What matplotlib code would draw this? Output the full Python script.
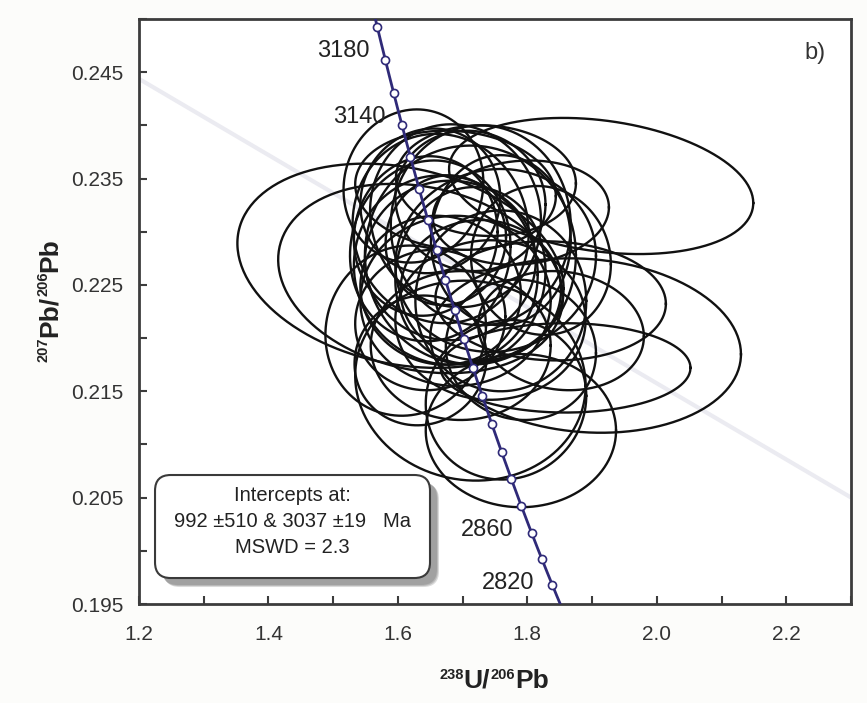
import numpy as np
import matplotlib
matplotlib.use("Agg")
import matplotlib.pyplot as plt
from matplotlib.patches import FancyBboxPatch
from matplotlib.ticker import FixedLocator, FormatStrFormatter

plt.rcParams['font.family'] = ['Liberation Sans', 'DejaVu Sans']

# Decay constants (1/yr) and present-day 238U/235U
LAMBDA_238 = 1.55125e-10
LAMBDA_235 = 9.8485e-10
U_RATIO = 137.88

# Spot analyses: 238U/206Pb and 207Pb/206Pb with 2-sigma half-widths and error correlation
u238_pb206 = [1.914, 1.604, 1.635, 1.890, 1.859, 1.624, 1.689, 1.728, 1.790, 1.666, 1.650,
              1.712, 1.674, 1.751, 1.689, 1.635, 1.712, 1.790, 1.767, 1.852, 1.836, 1.743,
              1.650, 1.697, 1.712, 1.650, 1.759, 1.821, 1.674, 1.728, 1.790, 1.689, 1.612,
              1.681, 1.712, 1.666, 1.759, 1.643, 1.736]
u238_err = [0.235, 0.252, 0.220, 0.240, 0.193, 0.108, 0.132, 0.139, 0.136, 0.136, 0.124,
            0.163, 0.142, 0.155, 0.147, 0.102, 0.178, 0.147, 0.124, 0.128, 0.178, 0.147,
            0.116, 0.139, 0.116, 0.108, 0.108, 0.108, 0.093, 0.124, 0.116, 0.155, 0.124,
            0.132, 0.116, 0.124, 0.132, 0.111, 0.139]
pb207_pb206 = [0.2343, 0.2268, 0.2256, 0.2193, 0.2172, 0.2343, 0.2315, 0.2306, 0.2318, 0.2303, 0.2282,
               0.2278, 0.2264, 0.2273, 0.2235, 0.2179, 0.2160, 0.2113, 0.2142, 0.2207, 0.2235, 0.2217,
               0.2217, 0.2193, 0.2329, 0.2329, 0.2292, 0.2273, 0.2292, 0.2245, 0.2189, 0.2339, 0.2207,
               0.2273, 0.2259, 0.2245, 0.2235, 0.2296, 0.2348]
pb207_err = [0.0064, 0.0096, 0.0089, 0.0082, 0.0042, 0.0072, 0.0086, 0.0094, 0.0049, 0.0089, 0.0085,
             0.0103, 0.0089, 0.0086, 0.0080, 0.0061, 0.0094, 0.0072, 0.0075, 0.0056, 0.0056, 0.0075,
             0.0066, 0.0070, 0.0066, 0.0068, 0.0080, 0.0070, 0.0061, 0.0066, 0.0066, 0.0056, 0.0080,
             0.0075, 0.0083, 0.0070, 0.0085, 0.0075, 0.0052]
err_corr = [-0.25, -0.22, -0.20, -0.10, 0.00, 0.05, -0.05, 0.00, 0.10, -0.05, 0.05,
            0.00, -0.05, 0.05, 0.00, 0.05, -0.05, 0.00, 0.05, -0.10, -0.05, 0.00,
            0.05, 0.00, -0.05, 0.05, 0.00, -0.05, 0.05, 0.00, -0.05, -0.10, 0.05,
            0.00, 0.05, -0.05, 0.00, 0.05, -0.05]

# Concordia age markers (Ma) and the ones carrying labels
marker_ages = [2780, 2800, 2820, 2840, 2860, 2880, 2900, 2920, 2940, 2960, 2980, 3000,
               3020, 3040, 3060, 3080, 3100, 3120, 3140, 3160, 3180, 3200]
labelled_ages = [2820, 2860, 3140, 3180]

# Discordia intercepts (Ma)
lower_intercept = 992
upper_intercept = 3037

x_ticks = [1.2, 1.4, 1.6, 1.8, 2.0, 2.2]
y_ticks = [0.195, 0.205, 0.215, 0.225, 0.235, 0.245]


def tera_wasserburg(age_ma):
    t = np.asarray(age_ma, dtype=float) * 1e6
    e238 = np.expm1(LAMBDA_238 * t)
    e235 = np.expm1(LAMBDA_235 * t)
    return 1.0 / e238, e235 / e238 / U_RATIO


fig = plt.figure(figsize=(8.67, 7.03), dpi=100, facecolor='#fcfcfa')
ax = fig.add_axes([139 / 867, 99 / 703, 712 / 867, 585 / 703])
ax.set_facecolor('white')
ax.set_xlim(1.2, 2.3)
ax.set_ylim(0.195, 0.25)

# Discordia through both intercepts
xl, yl = tera_wasserburg(lower_intercept)
xu, yu = tera_wasserburg(upper_intercept)
slope = (yl - yu) / (xl - xu)
xd = np.array([1.2, 2.3])
ax.plot(xd, yu + slope * (xd - xu), color='#ebebf1', lw=3.0, zorder=1, solid_capstyle='butt')

# Error ellipses
theta = np.linspace(0, 2 * np.pi, 240)
for x, sx, y, sy, r in zip(u238_pb206, u238_err, pb207_pb206, pb207_err, err_corr):
    ex = x + sx * np.cos(theta)
    ey = y + sy * (r * np.cos(theta) + np.sqrt(1 - r * r) * np.sin(theta))
    ax.plot(ex, ey, color='#111111', lw=1.7, zorder=3)

# Concordia curve with age markers
navy = '#2f2a78'
tc = np.linspace(2700, 3260, 400)
cx, cy = tera_wasserburg(tc)
ax.plot(cx, cy, color=navy, lw=2.0, zorder=4)
mx, my = tera_wasserburg(marker_ages)
ax.plot(mx, my, 'o', ms=5.8, mfc='white', mec=navy, mew=1.2, zorder=5)
for age in labelled_ages:
    lx, ly = tera_wasserburg(age)
    ax.annotate(str(age), xy=(lx, ly), xytext=(-24.5, -17.3), textcoords='offset points',
                ha='center', va='center', fontsize=17, color='#222222', zorder=6)

# Axes styling
for s in ax.spines.values():
    s.set_color('#3c3c3c')
    s.set_linewidth(2.0)
ax.xaxis.set_major_locator(FixedLocator(x_ticks))
ax.xaxis.set_minor_locator(FixedLocator([1.3, 1.5, 1.7, 1.9, 2.1, 2.3]))
ax.yaxis.set_major_locator(FixedLocator(y_ticks))
ax.yaxis.set_minor_locator(FixedLocator([0.200, 0.210, 0.220, 0.230, 0.240, 0.250]))
ax.xaxis.set_major_formatter(FormatStrFormatter('%.1f'))
ax.yaxis.set_major_formatter(FormatStrFormatter('%.3f'))
ax.tick_params(which='both', direction='in', length=6, width=1.5, color='#3c3c3c',
               labelsize=15, labelcolor='#333333')
ax.tick_params(axis='x', which='major', pad=15)
ax.tick_params(axis='y', which='major', pad=11)

# Panel tag
ax.text(0.949, 0.942, 'b)', transform=ax.transAxes, fontsize=17, color='#333333',
        ha='center', va='center')

# Result box with drop shadow
bx, by, bw, bh = 0.0225, 0.0444, 0.3862, 0.1761
asp = 712 / 585
for dx, dy, a in [(9, 9, 0.3), (8, 8, 0.4), (7, 7, 0.5)]:
    ax.add_patch(FancyBboxPatch((bx + dx / 712, by - dy / 585), bw, bh,
                                boxstyle='round,pad=0,rounding_size=0.022', mutation_aspect=asp,
                                transform=ax.transAxes, fc='#8a8a8a', ec='none', alpha=a, zorder=7))
ax.add_patch(FancyBboxPatch((bx, by), bw, bh, boxstyle='round,pad=0,rounding_size=0.022',
                            mutation_aspect=asp, transform=ax.transAxes, fc='white',
                            ec='#3a3a3a', lw=1.5, zorder=8))
box_lines = ['Intercepts at:',
             f'{lower_intercept} \u00b1510 & {upper_intercept} \u00b119   Ma',
             'MSWD = 2.3']
for txt, yy in zip(box_lines, [0.1863, 0.1402, 0.0974]):
    ax.text(0.2149, yy, txt, transform=ax.transAxes, fontsize=14.5, color='#222222',
            ha='center', va='center', zorder=9)


# Axis titles built from pieces so the isotope masses sit as small superscripts
def rich_label(pieces, x0, y0, vertical):
    fig.canvas.draw()
    renderer = fig.canvas.get_renderer()
    made = []
    for txt, size, rise in pieces:
        t = fig.text(0, 0, txt, fontsize=size, fontweight='bold', color='#222222',
                     ha='left', va='baseline', rotation=90 if vertical else 0,
                     rotation_mode='anchor', transform=None)
        bb = t.get_window_extent(renderer)
        made.append((t, bb.height if vertical else bb.width, rise))
    total = sum(m[1] for m in made)
    pos = (y0 - total / 2) if vertical else (x0 - total / 2)
    for t, L, rise in made:
        if vertical:
            t.set_position((x0 - rise, pos))
        else:
            t.set_position((pos, y0 + rise))
        pos += L


H = 703
rich_label([('238', 10.5, 9), ('U/', 19, 0), ('206', 10.5, 9), ('Pb', 19, 0)],
           494, H - 688, vertical=False)
rich_label([('207', 10.5, 9), ('Pb/', 19, 0), ('206', 10.5, 9), ('Pb', 19, 0)],
           57, H - 300, vertical=True)

fig.savefig('out.png', dpi=100, facecolor=fig.get_facecolor())
